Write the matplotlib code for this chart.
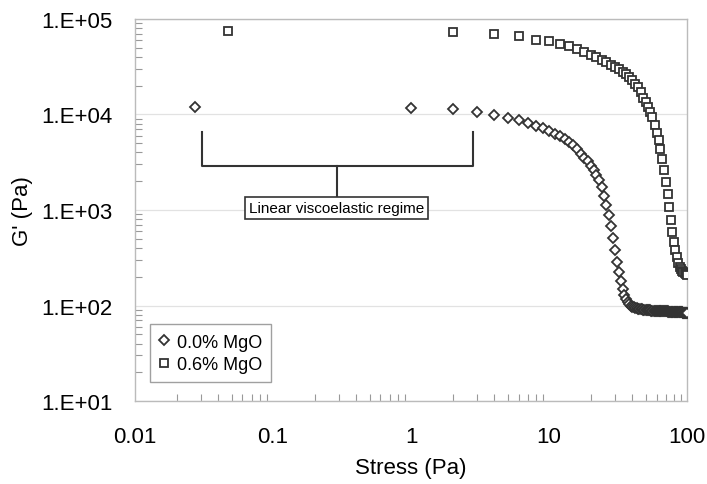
import matplotlib
matplotlib.use("Agg")
import matplotlib.pyplot as plt
import numpy as np
from matplotlib.ticker import LogLocator, NullFormatter

plt.rcParams['font.family'] = ['Liberation Sans', 'DejaVu Sans']

# 0.0% MgO: stress (Pa) and G' (Pa)
stress_0 = [0.027] + list(range(1, 101))
g_0 = [12000,
       11600, 11300, 10550, 9880, 9190, 8700, 8210, 7640, 7170, 6720,
       6250, 5890, 5540, 5150, 4730, 4350, 3860, 3510, 3220, 2890,
       2620, 2320, 2060, 1740, 1400, 1130, 887, 680, 509, 381,
       285, 224, 181, 149, 129, 117, 109, 104, 100, 97.6,
       96.4, 95.3, 94.1, 93.0, 91.9, 91.5, 91.0, 90.6, 90.2, 89.9,
       89.6, 89.3, 89.0, 88.8, 88.6, 88.4, 88.2, 88.0, 87.9, 87.8,
       87.7, 87.6, 87.5, 87.4, 87.3, 87.2, 87.1, 87.0, 86.9, 86.8,
       86.7, 86.6, 86.5, 86.4, 86.3, 86.2, 86.1, 86.0, 85.9, 85.8,
       85.7, 85.6, 85.5, 85.4, 85.3, 85.2, 85.1, 85.0, 84.9, 84.8,
       84.7, 84.6, 84.5, 84.5, 84.4, 84.4, 84.3, 84.3, 84.2, 84.2]

# 0.6% MgO
stress_6 = [0.047] + list(range(2, 101, 2))
g_6 = [74300,
       73600, 69600, 65900, 60800, 58900, 54700, 52600, 48500, 45000, 42000,
       40000, 37300, 35100, 33000, 31500, 29600, 27900, 26500, 24700, 22700,
       20900, 19200, 17200, 14900, 13400, 12000, 10700, 9400, 7760, 6400,
       5410, 4350, 3420, 2620, 1960, 1470, 1075, 785, 589, 462,
       381, 322, 279, 253, 240, 230, 222, 217, 213, 210]

ytick_vals = [1e1, 1e2, 1e3, 1e4, 1e5]
ytick_labels = ['1.E+01', '1.E+02', '1.E+03', '1.E+04', '1.E+05']
xtick_vals = [0.01, 0.1, 1, 10, 100]
xtick_labels = ['0.01', '0.1', '1', '10', '100']

fig = plt.figure(figsize=(7.07, 4.85), dpi=100)
ax = fig.add_axes([0.191, 0.171, 0.781, 0.788])

edge = '#333333'
ax.plot(stress_0, g_0, linestyle='none', marker='D', markersize=5,
        markerfacecolor='white', markeredgecolor=edge, markeredgewidth=1.3,
        label='0.0% MgO', zorder=3)
ax.plot(stress_6, g_6, linestyle='none', marker='s', markersize=6,
        markerfacecolor='white', markeredgecolor=edge, markeredgewidth=1.3,
        label='0.6% MgO', zorder=3)

ax.set_xscale('log')
ax.set_yscale('log')
ax.set_xlim(0.01, 100)
ax.set_ylim(10, 1e5)

ax.set_xticks(xtick_vals)
ax.set_xticklabels(xtick_labels)
ax.set_yticks(ytick_vals)
ax.set_yticklabels(ytick_labels)
ax.xaxis.set_minor_locator(LogLocator(base=10, subs=np.arange(2, 10)))
ax.yaxis.set_minor_locator(LogLocator(base=10, subs=np.arange(2, 10)))
ax.xaxis.set_minor_formatter(NullFormatter())
ax.yaxis.set_minor_formatter(NullFormatter())
ax.tick_params(which='major', direction='in', length=0, labelsize=16)
ax.tick_params(axis='x', which='major', pad=18)
ax.tick_params(axis='y', which='major', pad=16)
ax.tick_params(which='minor', direction='in', length=5, color='#999999', width=0.8)

ax.grid(axis='y', which='major', color='#e2e2e2', linewidth=0.9)
ax.set_axisbelow(True)
for s in ax.spines.values():
    s.set_color('#bbbbbb')
    s.set_linewidth(1.0)

ax.set_xlabel('Stress (Pa)', fontsize=16, labelpad=7)
ax.set_ylabel("G' (Pa)", fontsize=16, labelpad=6)

# bracket for linear viscoelastic regime
bx_left, bx_right, bx_mid = 0.0307, 2.83, 0.29
b_top, b_bar, b_box = 6600, 2910, 1340
ax.plot([bx_left, bx_left, bx_right, bx_right], [b_top, b_bar, b_bar, b_top],
        color='#333333', lw=1.5, zorder=2)
ax.plot([bx_mid, bx_mid], [b_bar, b_box], color='#333333', lw=1.5, zorder=2)
ax.text(bx_mid, 1050, 'Linear viscoelastic regime', fontsize=11,
        ha='center', va='center',
        bbox=dict(boxstyle='square,pad=0.25', facecolor='white',
                  edgecolor='#333333', linewidth=1.2))

leg = ax.legend(loc='lower left', bbox_to_anchor=(0.027, 0.05), fontsize=13,
                frameon=True, fancybox=False, edgecolor='#888888',
                handlelength=0.6, handletextpad=0.4, borderpad=0.5,
                labelspacing=0.3, borderaxespad=0)
leg.get_frame().set_linewidth(1.0)

fig.savefig('out.png', dpi=100)
